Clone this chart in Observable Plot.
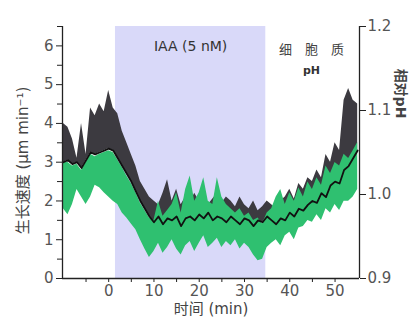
<!DOCTYPE html>
<html><head><meta charset="utf-8">
<script src="https://cdn.jsdelivr.net/npm/d3@7"></script>
<script src="https://cdn.jsdelivr.net/npm/@observablehq/plot@0.6"></script>
<style>
html,body{margin:0;padding:0;background:#fff;}
#chart svg{display:block;}
</style></head><body><div id="chart"></div>
<script>
// time (min)
const minutes = [-10,-9,-8,-7,-6,-5,-4,-3,-2,-1,0,1,2,3,4,5,6,7,8,9,10,11,12,13,14,15,16,17,18,19,20,21,22,23,24,25,26,27,28,29,30,31,32,33,34,35,36,37,38,39,40,41,42,43,44,45,46,47,48,49,50,51,52,53,54,55];
// growth rate mean (µm/min)
const growthMean = [3.0,3.05,2.95,3.0,2.85,3.05,3.25,3.2,3.25,3.3,3.35,3.3,3.1,2.9,2.7,2.5,2.25,2.0,1.8,1.6,1.45,1.6,1.4,1.55,1.5,1.6,1.35,1.55,1.6,1.5,1.65,1.55,1.7,1.5,1.6,1.55,1.45,1.6,1.5,1.4,1.55,1.5,1.35,1.5,1.45,1.6,1.5,1.4,1.55,1.5,1.7,1.6,1.8,1.75,1.9,2.0,1.95,2.2,2.1,2.4,2.5,2.45,2.8,2.9,3.1,3.3];
// growth rate upper error (µm/min)
const growthUpper = [4.0,3.9,3.6,3.1,4.0,3.2,4.4,4.2,4.5,4.3,4.85,4.4,4.25,3.8,3.5,3.2,2.9,2.5,2.3,2.1,2.0,1.9,2.2,2.55,2.0,2.3,1.9,2.1,1.95,2.2,2.0,2.1,1.9,2.05,2.2,1.95,2.1,2.0,1.85,2.1,1.9,1.8,2.0,1.75,1.85,2.0,1.9,1.8,2.0,2.1,2.3,2.05,2.45,2.3,2.6,2.5,2.8,2.6,3.2,3.0,3.5,3.3,4.6,4.9,4.6,4.5];
// cytosolic pH band (relative pH)
const phLower = [0.983,0.976,0.988,1.006,0.997,0.988,0.997,1.011,1.008,1.002,0.997,0.992,0.988,0.978,0.972,0.965,0.958,0.946,0.935,0.925,0.932,0.942,0.930,0.937,0.946,0.935,0.928,0.939,0.944,0.932,0.942,0.951,0.937,0.942,0.948,0.937,0.944,0.939,0.946,0.935,0.942,0.937,0.928,0.921,0.923,0.937,0.942,0.946,0.939,0.951,0.955,0.946,0.960,0.962,0.969,0.967,0.976,0.969,0.983,0.978,0.988,0.981,0.992,0.992,0.997,1.006];
const phUpper = [1.038,1.038,1.034,1.036,1.029,1.038,1.048,1.045,1.048,1.050,1.052,1.050,1.041,1.032,1.022,1.013,1.002,0.990,0.981,0.972,0.969,0.992,0.974,0.981,0.988,1.002,0.978,1.006,1.022,0.992,1.002,1.020,0.992,0.988,1.020,0.997,0.988,0.983,0.978,0.983,0.974,0.978,0.969,0.972,0.965,0.978,0.983,0.997,1.006,0.988,1.002,0.992,1.008,0.997,1.015,1.006,1.020,1.011,1.034,1.025,1.038,1.034,1.048,1.043,1.052,1.062];

const iaaWindow = [1.5, 34.7];
const timeDomain = [-10.2, 55.4];
const growthDomain = [0, 6.5];
const phDomain = [0.9, 1.2];
const growthTicks = [0,1,2,3,4,5,6];
const growthMinorTicks = [0.5,1.5,2.5,3.5,4.5,5.5,6.5];
const timeTicks = [0,10,20,30,40,50];
const timeMinorTicks = [-5,5,15,25,35,45];
const phTicks = [0.9,1.0,1.1,1.2];

const toGrowth = d3.scaleLinear(phDomain, growthDomain);
const rows = minutes.map((t, i) => ({
  t, mean: growthMean[i], upper: growthUpper[i],
  gLo: toGrowth(phLower[i]), gHi: toGrowth(phUpper[i])
}));

const axisColor = "#222";
const chart = Plot.plot({
  width: 416, height: 323,
  marginLeft: 62, marginRight: 57, marginTop: 26, marginBottom: 45,
  style: {fontFamily: "'DejaVu Sans', 'Noto Sans CJK SC', sans-serif", fontSize: "15px", color: "#555", background: "#fff"},
  x: {domain: timeDomain},
  y: {domain: growthDomain},
  marks: [
    Plot.rect([iaaWindow], {x1: d => d[0], x2: d => d[1], fill: "#d9d9f9"}),
    Plot.areaY(rows, {x: "t", y1: "mean", y2: "upper", fill: "#3c3a40"}),
    Plot.areaY(rows, {x: "t", y1: "gLo", y2: "gHi", fill: "#2fc070"}),
    Plot.lineY(rows, {x: "t", y: "mean", stroke: "#111", strokeWidth: 1.8}),
    Plot.ruleY([growthDomain[0]], {stroke: axisColor, strokeWidth: 1.3}),
    Plot.ruleX([timeDomain[0]], {stroke: axisColor, strokeWidth: 1.3}),
    Plot.ruleX([timeDomain[1]], {stroke: axisColor, strokeWidth: 1.3}),
    Plot.axisY(growthTicks, {anchor: "left", tickSize: 6, tickPadding: 3, stroke: axisColor, label: null}),
    Plot.axisY(growthMinorTicks, {anchor: "left", tickSize: 5, stroke: axisColor, tickFormat: () => "", label: null}),
    Plot.axisY(phTicks.map(toGrowth), {anchor: "right", tickSize: 6, tickPadding: 2, stroke: axisColor, tickFormat: d => d3.format(".1f")(toGrowth.invert(d)), label: null}),
    Plot.axisX(timeTicks, {anchor: "bottom", tickSize: 4, tickPadding: 3, stroke: axisColor, label: null}),
    Plot.axisX(timeMinorTicks, {anchor: "bottom", tickSize: 4, stroke: axisColor, tickFormat: () => "", label: null}),
    Plot.text(["生长速度 (μm min⁻¹)"], {frameAnchor: "left", textAnchor: "middle", dx: -39, dy: 8, rotate: -90, fontSize: 15, fill: "#444"}),
    Plot.text(["时间 (min)"], {frameAnchor: "bottom", dy: 35, fontSize: 15, fill: "#444"}),
    Plot.text(["IAA (5 nM)"], {x: () => (iaaWindow[0] + iaaWindow[1]) / 2, frameAnchor: "top", dy: 15, fontSize: 14, fill: "#333"}),
    Plot.text(["细　胞　质"], {frameAnchor: "top-right", textAnchor: "middle", dx: -48, dy: 18, fontSize: 13, fill: "#444"}),
    Plot.text(["pH"], {frameAnchor: "top-right", textAnchor: "middle", dx: -48, dy: 40, fontSize: 11, fontWeight: "bold", fill: "#333"}),
    Plot.text(["相对pH"], {frameAnchor: "top-right", textAnchor: "middle", dx: 46, dy: 67, rotate: 90, fontSize: 14, fontWeight: "bold", fill: "#444"})
  ]
});
document.getElementById("chart").appendChild(chart);
</script>
</body></html>
